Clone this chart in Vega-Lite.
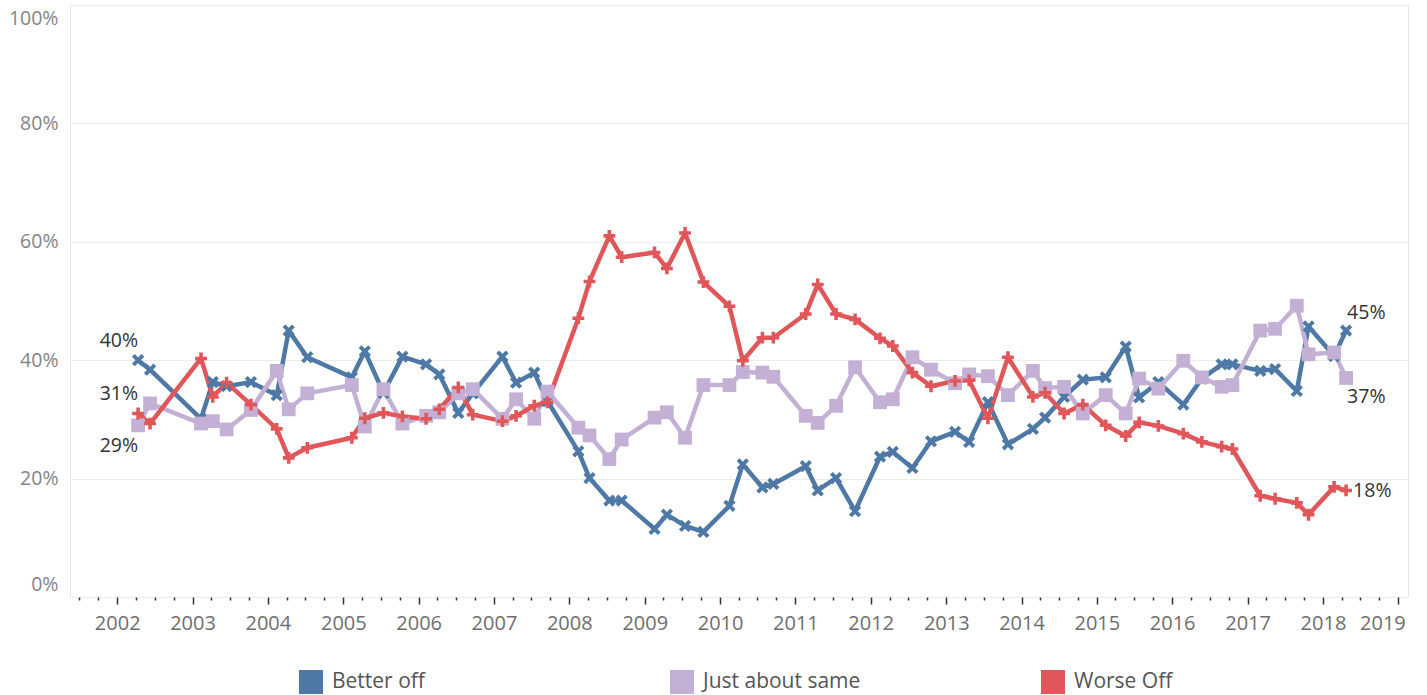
{
  "$schema": "https://vega.github.io/schema/vega-lite/v6.json",
  "autosize": {"type": "none"},
  "padding": {"left": 70, "top": 5, "right": 19, "bottom": 98},
  "width": 1338,
  "height": 592,
  "config": {
    "font": "Open Sans",
    "view": {"stroke": "#e4e4e4", "strokeWidth": 1}
  },
  "data": {
    "values": [
      {"d": "2002-04-12", "s": "Better off", "v": 0.40},
      {"d": "2002-06-09", "s": "Better off", "v": 0.384},
      {"d": "2003-02-11", "s": "Better off", "v": 0.301},
      {"d": "2003-04-09", "s": "Better off", "v": 0.363},
      {"d": "2003-06-15", "s": "Better off", "v": 0.356},
      {"d": "2003-10-11", "s": "Better off", "v": 0.363},
      {"d": "2004-02-13", "s": "Better off", "v": 0.341},
      {"d": "2004-04-11", "s": "Better off", "v": 0.450},
      {"d": "2004-07-10", "s": "Better off", "v": 0.405},
      {"d": "2005-02-11", "s": "Better off", "v": 0.371},
      {"d": "2005-04-15", "s": "Better off", "v": 0.415},
      {"d": "2005-07-14", "s": "Better off", "v": 0.345},
      {"d": "2005-10-14", "s": "Better off", "v": 0.406},
      {"d": "2006-02-06", "s": "Better off", "v": 0.393},
      {"d": "2006-04-11", "s": "Better off", "v": 0.376},
      {"d": "2006-07-12", "s": "Better off", "v": 0.311},
      {"d": "2006-09-20", "s": "Better off", "v": 0.344},
      {"d": "2007-02-11", "s": "Better off", "v": 0.406},
      {"d": "2007-04-18", "s": "Better off", "v": 0.362},
      {"d": "2007-07-15", "s": "Better off", "v": 0.379},
      {"d": "2007-09-17", "s": "Better off", "v": 0.331},
      {"d": "2008-02-14", "s": "Better off", "v": 0.246},
      {"d": "2008-04-08", "s": "Better off", "v": 0.201},
      {"d": "2008-07-13", "s": "Better off", "v": 0.163},
      {"d": "2008-09-11", "s": "Better off", "v": 0.163},
      {"d": "2009-02-17", "s": "Better off", "v": 0.115},
      {"d": "2009-04-18", "s": "Better off", "v": 0.139},
      {"d": "2009-07-15", "s": "Better off", "v": 0.120},
      {"d": "2009-10-12", "s": "Better off", "v": 0.110},
      {"d": "2010-02-15", "s": "Better off", "v": 0.154},
      {"d": "2010-04-21", "s": "Better off", "v": 0.224},
      {"d": "2010-07-25", "s": "Better off", "v": 0.185},
      {"d": "2010-09-16", "s": "Better off", "v": 0.191},
      {"d": "2011-02-20", "s": "Better off", "v": 0.221},
      {"d": "2011-04-19", "s": "Better off", "v": 0.180},
      {"d": "2011-07-17", "s": "Better off", "v": 0.201},
      {"d": "2011-10-17", "s": "Better off", "v": 0.145},
      {"d": "2012-02-15", "s": "Better off", "v": 0.237},
      {"d": "2012-04-17", "s": "Better off", "v": 0.245},
      {"d": "2012-07-21", "s": "Better off", "v": 0.218},
      {"d": "2012-10-19", "s": "Better off", "v": 0.263},
      {"d": "2013-02-13", "s": "Better off", "v": 0.279},
      {"d": "2013-04-22", "s": "Better off", "v": 0.262},
      {"d": "2013-07-22", "s": "Better off", "v": 0.329},
      {"d": "2013-10-27", "s": "Better off", "v": 0.258},
      {"d": "2014-02-25", "s": "Better off", "v": 0.284},
      {"d": "2014-04-25", "s": "Better off", "v": 0.303},
      {"d": "2014-07-26", "s": "Better off", "v": 0.338},
      {"d": "2014-10-25", "s": "Better off", "v": 0.367},
      {"d": "2015-02-13", "s": "Better off", "v": 0.371},
      {"d": "2015-05-21", "s": "Better off", "v": 0.423},
      {"d": "2015-07-25", "s": "Better off", "v": 0.337},
      {"d": "2015-10-26", "s": "Better off", "v": 0.363},
      {"d": "2016-02-24", "s": "Better off", "v": 0.325},
      {"d": "2016-05-24", "s": "Better off", "v": 0.369},
      {"d": "2016-08-28", "s": "Better off", "v": 0.393},
      {"d": "2016-10-19", "s": "Better off", "v": 0.393},
      {"d": "2017-03-03", "s": "Better off", "v": 0.382},
      {"d": "2017-05-14", "s": "Better off", "v": 0.385},
      {"d": "2017-08-27", "s": "Better off", "v": 0.348},
      {"d": "2017-10-23", "s": "Better off", "v": 0.457},
      {"d": "2018-02-24", "s": "Better off", "v": 0.407},
      {"d": "2018-04-23", "s": "Better off", "v": 0.45},

      {"d": "2002-04-12", "s": "Just about same", "v": 0.29},
      {"d": "2002-06-09", "s": "Just about same", "v": 0.327},
      {"d": "2003-02-11", "s": "Just about same", "v": 0.293},
      {"d": "2003-04-09", "s": "Just about same", "v": 0.297},
      {"d": "2003-06-15", "s": "Just about same", "v": 0.283},
      {"d": "2003-10-11", "s": "Just about same", "v": 0.316},
      {"d": "2004-02-13", "s": "Just about same", "v": 0.382},
      {"d": "2004-04-11", "s": "Just about same", "v": 0.317},
      {"d": "2004-07-10", "s": "Just about same", "v": 0.344},
      {"d": "2005-02-11", "s": "Just about same", "v": 0.358},
      {"d": "2005-04-15", "s": "Just about same", "v": 0.288},
      {"d": "2005-07-14", "s": "Just about same", "v": 0.351},
      {"d": "2005-10-14", "s": "Just about same", "v": 0.293},
      {"d": "2006-02-06", "s": "Just about same", "v": 0.306},
      {"d": "2006-04-11", "s": "Just about same", "v": 0.312},
      {"d": "2006-07-12", "s": "Just about same", "v": 0.344},
      {"d": "2006-09-20", "s": "Just about same", "v": 0.351},
      {"d": "2007-02-11", "s": "Just about same", "v": 0.301},
      {"d": "2007-04-18", "s": "Just about same", "v": 0.334},
      {"d": "2007-07-15", "s": "Just about same", "v": 0.301},
      {"d": "2007-09-17", "s": "Just about same", "v": 0.347},
      {"d": "2008-02-14", "s": "Just about same", "v": 0.286},
      {"d": "2008-04-08", "s": "Just about same", "v": 0.273},
      {"d": "2008-07-13", "s": "Just about same", "v": 0.233},
      {"d": "2008-09-11", "s": "Just about same", "v": 0.266},
      {"d": "2009-02-17", "s": "Just about same", "v": 0.303},
      {"d": "2009-04-18", "s": "Just about same", "v": 0.312},
      {"d": "2009-07-15", "s": "Just about same", "v": 0.269},
      {"d": "2009-10-12", "s": "Just about same", "v": 0.358},
      {"d": "2010-02-15", "s": "Just about same", "v": 0.358},
      {"d": "2010-04-21", "s": "Just about same", "v": 0.380},
      {"d": "2010-07-25", "s": "Just about same", "v": 0.379},
      {"d": "2010-09-16", "s": "Just about same", "v": 0.372},
      {"d": "2011-02-20", "s": "Just about same", "v": 0.306},
      {"d": "2011-04-19", "s": "Just about same", "v": 0.294},
      {"d": "2011-07-17", "s": "Just about same", "v": 0.323},
      {"d": "2011-10-17", "s": "Just about same", "v": 0.388},
      {"d": "2012-02-15", "s": "Just about same", "v": 0.329},
      {"d": "2012-04-17", "s": "Just about same", "v": 0.334},
      {"d": "2012-07-21", "s": "Just about same", "v": 0.405},
      {"d": "2012-10-19", "s": "Just about same", "v": 0.384},
      {"d": "2013-02-13", "s": "Just about same", "v": 0.361},
      {"d": "2013-04-22", "s": "Just about same", "v": 0.376},
      {"d": "2013-07-22", "s": "Just about same", "v": 0.373},
      {"d": "2013-10-27", "s": "Just about same", "v": 0.341},
      {"d": "2014-02-25", "s": "Just about same", "v": 0.382},
      {"d": "2014-04-25", "s": "Just about same", "v": 0.353},
      {"d": "2014-07-26", "s": "Just about same", "v": 0.355},
      {"d": "2014-10-25", "s": "Just about same", "v": 0.310},
      {"d": "2015-02-13", "s": "Just about same", "v": 0.341},
      {"d": "2015-05-21", "s": "Just about same", "v": 0.310},
      {"d": "2015-07-25", "s": "Just about same", "v": 0.369},
      {"d": "2015-10-26", "s": "Just about same", "v": 0.352},
      {"d": "2016-02-24", "s": "Just about same", "v": 0.399},
      {"d": "2016-05-24", "s": "Just about same", "v": 0.371},
      {"d": "2016-08-28", "s": "Just about same", "v": 0.355},
      {"d": "2016-10-19", "s": "Just about same", "v": 0.358},
      {"d": "2017-03-03", "s": "Just about same", "v": 0.450},
      {"d": "2017-05-14", "s": "Just about same", "v": 0.453},
      {"d": "2017-08-27", "s": "Just about same", "v": 0.492},
      {"d": "2017-10-23", "s": "Just about same", "v": 0.410},
      {"d": "2018-02-24", "s": "Just about same", "v": 0.413},
      {"d": "2018-04-23", "s": "Just about same", "v": 0.37},

      {"d": "2002-04-12", "s": "Worse Off", "v": 0.31},
      {"d": "2002-06-09", "s": "Worse Off", "v": 0.293},
      {"d": "2003-02-11", "s": "Worse Off", "v": 0.403},
      {"d": "2003-04-09", "s": "Worse Off", "v": 0.338},
      {"d": "2003-06-15", "s": "Worse Off", "v": 0.362},
      {"d": "2003-10-11", "s": "Worse Off", "v": 0.325},
      {"d": "2004-02-13", "s": "Worse Off", "v": 0.284},
      {"d": "2004-04-11", "s": "Worse Off", "v": 0.235},
      {"d": "2004-07-10", "s": "Worse Off", "v": 0.252},
      {"d": "2005-02-11", "s": "Worse Off", "v": 0.269},
      {"d": "2005-04-15", "s": "Worse Off", "v": 0.302},
      {"d": "2005-07-14", "s": "Worse Off", "v": 0.311},
      {"d": "2005-10-14", "s": "Worse Off", "v": 0.305},
      {"d": "2006-02-06", "s": "Worse Off", "v": 0.301},
      {"d": "2006-04-11", "s": "Worse Off", "v": 0.317},
      {"d": "2006-07-12", "s": "Worse Off", "v": 0.354},
      {"d": "2006-09-20", "s": "Worse Off", "v": 0.308},
      {"d": "2007-02-11", "s": "Worse Off", "v": 0.297},
      {"d": "2007-04-18", "s": "Worse Off", "v": 0.306},
      {"d": "2007-07-15", "s": "Worse Off", "v": 0.323},
      {"d": "2007-09-17", "s": "Worse Off", "v": 0.329},
      {"d": "2008-02-14", "s": "Worse Off", "v": 0.471},
      {"d": "2008-04-08", "s": "Worse Off", "v": 0.533},
      {"d": "2008-07-13", "s": "Worse Off", "v": 0.610},
      {"d": "2008-09-11", "s": "Worse Off", "v": 0.574},
      {"d": "2009-02-17", "s": "Worse Off", "v": 0.582},
      {"d": "2009-04-18", "s": "Worse Off", "v": 0.555},
      {"d": "2009-07-15", "s": "Worse Off", "v": 0.615},
      {"d": "2009-10-12", "s": "Worse Off", "v": 0.532},
      {"d": "2010-02-15", "s": "Worse Off", "v": 0.491},
      {"d": "2010-04-21", "s": "Worse Off", "v": 0.399},
      {"d": "2010-07-25", "s": "Worse Off", "v": 0.438},
      {"d": "2010-09-16", "s": "Worse Off", "v": 0.438},
      {"d": "2011-02-20", "s": "Worse Off", "v": 0.478},
      {"d": "2011-04-19", "s": "Worse Off", "v": 0.528},
      {"d": "2011-07-17", "s": "Worse Off", "v": 0.478},
      {"d": "2011-10-17", "s": "Worse Off", "v": 0.469},
      {"d": "2012-02-15", "s": "Worse Off", "v": 0.437},
      {"d": "2012-04-17", "s": "Worse Off", "v": 0.424},
      {"d": "2012-07-21", "s": "Worse Off", "v": 0.379},
      {"d": "2012-10-19", "s": "Worse Off", "v": 0.356},
      {"d": "2013-02-13", "s": "Worse Off", "v": 0.365},
      {"d": "2013-04-22", "s": "Worse Off", "v": 0.366},
      {"d": "2013-07-22", "s": "Worse Off", "v": 0.302},
      {"d": "2013-10-27", "s": "Worse Off", "v": 0.405},
      {"d": "2014-02-25", "s": "Worse Off", "v": 0.338},
      {"d": "2014-04-25", "s": "Worse Off", "v": 0.345},
      {"d": "2014-07-26", "s": "Worse Off", "v": 0.310},
      {"d": "2014-10-25", "s": "Worse Off", "v": 0.325},
      {"d": "2015-02-13", "s": "Worse Off", "v": 0.290},
      {"d": "2015-05-21", "s": "Worse Off", "v": 0.272},
      {"d": "2015-07-25", "s": "Worse Off", "v": 0.295},
      {"d": "2015-10-26", "s": "Worse Off", "v": 0.289},
      {"d": "2016-02-24", "s": "Worse Off", "v": 0.276},
      {"d": "2016-05-24", "s": "Worse Off", "v": 0.262},
      {"d": "2016-08-28", "s": "Worse Off", "v": 0.254},
      {"d": "2016-10-19", "s": "Worse Off", "v": 0.250},
      {"d": "2017-03-03", "s": "Worse Off", "v": 0.171},
      {"d": "2017-05-14", "s": "Worse Off", "v": 0.166},
      {"d": "2017-08-27", "s": "Worse Off", "v": 0.159},
      {"d": "2017-10-23", "s": "Worse Off", "v": 0.139},
      {"d": "2018-02-24", "s": "Worse Off", "v": 0.186},
      {"d": "2018-04-23", "s": "Worse Off", "v": 0.18}
    ]
  },
  "encoding": {
    "x": {
      "field": "d",
      "type": "temporal",
      "scale": {"domain": [{"year": 2001, "month": 5, "date": 17}, {"year": 2019, "month": 2, "date": 17}]},
      "axis": {
        "title": null,
        "grid": false,
        "domain": false,
        "tickCount": {"interval": "month", "step": 3},
        "labelExpr": "month(datum.value) == 0 ? timeFormat(datum.value, '%Y') : ''",
        "tickSize": {"condition": {"test": "month(datum.value) == 0", "value": 7}, "value": 3},
        "tickColor": "#333333",
        "tickWidth": 1.5,
        "labelPadding": 9,
        "labelFont": "Open Sans",
        "labelFontSize": 20,
        "labelColor": "#6e6e6e",
        "labelOverlap": false,
        "labelFlush": 12,
        "labelFlushOffset": 7
      }
    },
    "y": {
      "field": "v",
      "type": "quantitative",
      "scale": {"domain": [0, 1]},
      "axis": {
        "title": null,
        "values": [0, 0.2, 0.4, 0.6, 0.8, 1],
        "format": ".0%",
        "grid": true,
        "gridColor": "#ececec",
        "gridWidth": 1,
        "ticks": false,
        "domain": false,
        "labelPadding": 12,
        "labelFont": "Open Sans",
        "labelFontSize": 19.5,
        "labelColor": "#858585",
        "labelOffset": {"condition": [{"test": "datum.value == 1", "value": 13}, {"test": "datum.value == 0", "value": -13}], "value": 0}
      }
    },
    "color": {
      "field": "s",
      "type": "nominal",
      "scale": {"domain": ["Better off", "Just about same", "Worse Off"], "range": ["#4e79a7", "#c5b0d5", "#e15759"]},
      "legend": {
        "title": null,
        "orient": "none",
        "legendX": 229,
        "legendY": 665,
        "direction": "horizontal",
        "columns": 3,
        "gridAlign": "all",
        "columnPadding": 180,
        "symbolType": "square",
        "symbolSize": 576,
        "symbolStrokeWidth": 0,
        "symbolOpacity": 1,
        "labelFont": "Open Sans",
        "labelFontSize": 21,
        "labelColor": "#555555",
        "labelOffset": 9,
        "encode": {
          "symbols": {
            "update": {
              "shape": {"value": "square"},
              "size": {"value": 576},
              "fill": {"scale": "color", "field": "value"},
              "stroke": {"value": "transparent"},
              "strokeWidth": {"value": 0},
              "opacity": {"value": 1}
            }
          }
        }
      }
    }
  },
  "layer": [
    {
      "mark": {"type": "line", "strokeWidth": 4.5, "strokeJoin": "round", "strokeCap": "round"}
    },
    {
      "transform": [{"filter": "datum.s == 'Better off'"}],
      "mark": {
        "type": "point", "filled": true, "opacity": 1, "strokeWidth": 0, "size": 150,
        "shape": "M-1,-0.55L-0.55,-1L0,-0.45L0.55,-1L1,-0.55L0.45,0L1,0.55L0.55,1L0,0.45L-0.55,1L-1,0.55L-0.45,0Z"
      }
    },
    {
      "transform": [{"filter": "datum.s == 'Just about same'"}],
      "mark": {"type": "point", "filled": true, "opacity": 1, "strokeWidth": 0, "size": 190, "shape": "square"}
    },
    {
      "transform": [{"filter": "datum.s == 'Worse Off'"}],
      "mark": {
        "type": "point", "filled": true, "opacity": 1, "strokeWidth": 0, "size": 140,
        "shape": "M-0.3,-1L0.3,-1L0.3,-0.3L1,-0.3L1,0.3L0.3,0.3L0.3,1L-0.3,1L-0.3,0.3L-1,0.3L-1,-0.3L-0.3,-0.3Z"
      }
    },
    {
      "transform": [{"filter": "year(datum.d) == 2002 && month(datum.d) == 3 && datum.s != 'Just about same'"}],
      "mark": {"type": "text", "align": "right", "baseline": "middle", "dx": 0, "dy": -19, "fontSize": 19.5},
      "encoding": {"text": {"field": "v", "type": "quantitative", "format": ".0%"}, "color": {"value": "#333333"}}
    },
    {
      "transform": [{"filter": "year(datum.d) == 2002 && month(datum.d) == 3 && datum.s == 'Just about same'"}],
      "mark": {"type": "text", "align": "right", "baseline": "middle", "dx": 0, "dy": 21, "fontSize": 19.5},
      "encoding": {"text": {"field": "v", "type": "quantitative", "format": ".0%"}, "color": {"value": "#333333"}}
    },
    {
      "transform": [{"filter": "year(datum.d) == 2018 && month(datum.d) == 3 && datum.s == 'Better off'"}],
      "mark": {"type": "text", "align": "left", "baseline": "middle", "dx": 1, "dy": -18, "fontSize": 19.5},
      "encoding": {"text": {"field": "v", "type": "quantitative", "format": ".0%"}, "color": {"value": "#333333"}}
    },
    {
      "transform": [{"filter": "year(datum.d) == 2018 && month(datum.d) == 3 && datum.s == 'Just about same'"}],
      "mark": {"type": "text", "align": "left", "baseline": "middle", "dx": 1, "dy": 19, "fontSize": 19.5},
      "encoding": {"text": {"field": "v", "type": "quantitative", "format": ".0%"}, "color": {"value": "#333333"}}
    },
    {
      "transform": [{"filter": "year(datum.d) == 2018 && month(datum.d) == 3 && datum.s == 'Worse Off'"}],
      "mark": {"type": "text", "align": "left", "baseline": "middle", "dx": 7, "dy": 1, "fontSize": 19.5},
      "encoding": {"text": {"field": "v", "type": "quantitative", "format": ".0%"}, "color": {"value": "#333333"}}
    }
  ]
}
